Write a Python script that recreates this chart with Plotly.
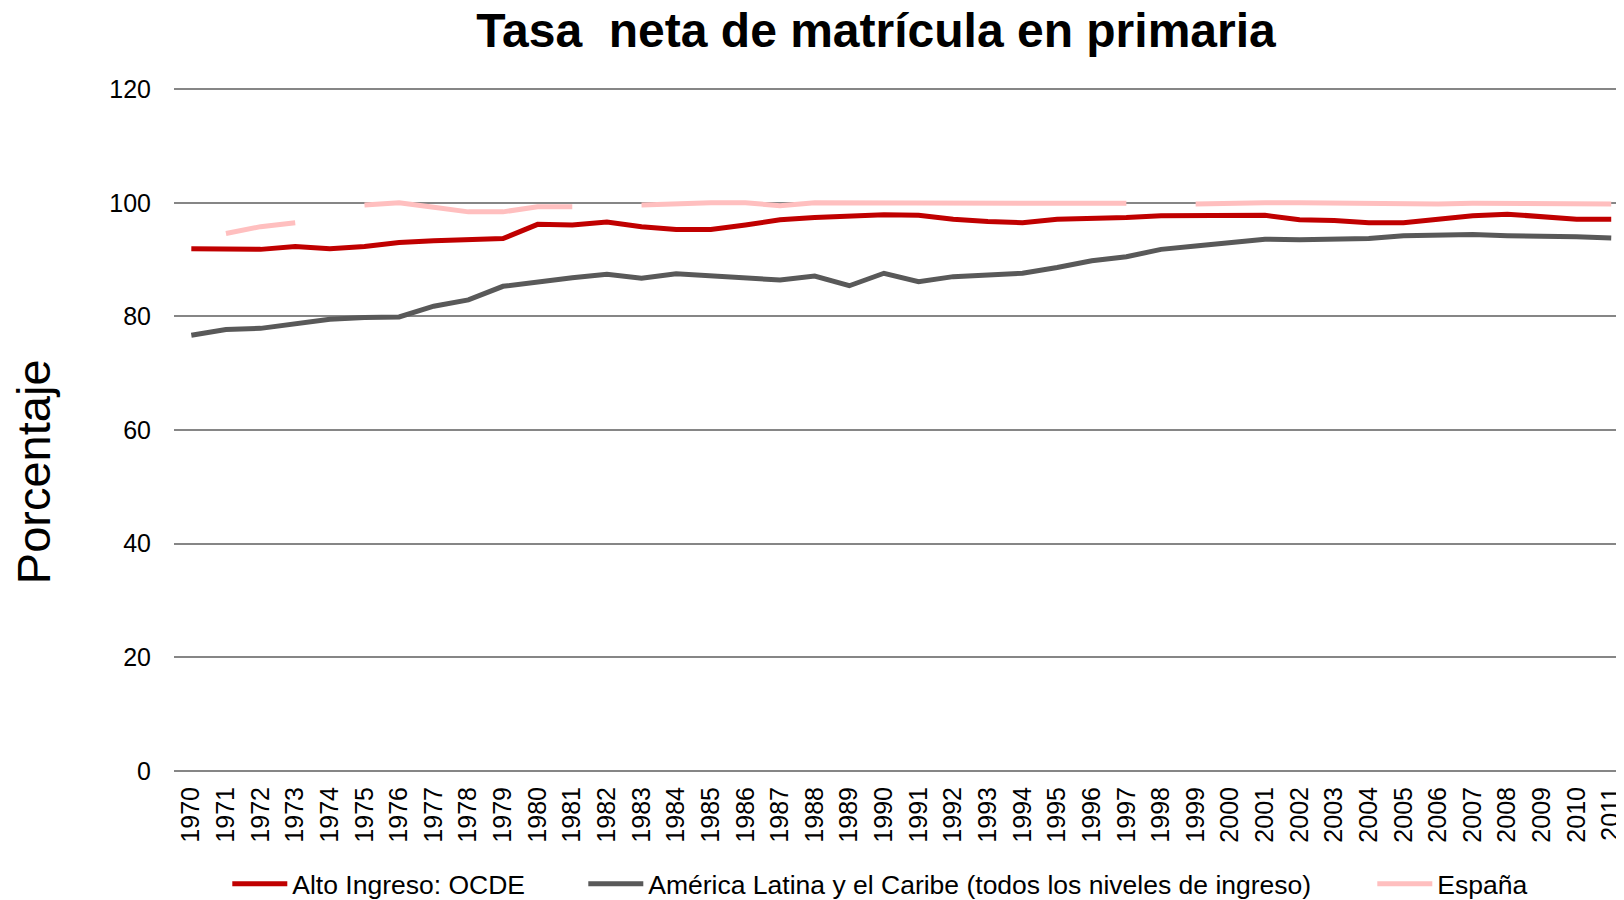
import plotly.graph_objects as go

years = list(range(1970, 2012))

alto_ingreso_ocde = [91.9, 91.9, 91.8, 92.3, 91.9, 92.3, 93.0, 93.3, 93.6, 93.7,
                     96.2, 96.1, 96.6, 95.8, 95.3, 95.3, 96.1, 97.0, 97.4, 97.7,
                     97.9, 97.8, 97.1, 96.7, 96.5, 97.1, 97.2, 97.4, 97.7, 97.7,
                     97.7, 97.8, 97.0, 96.9, 96.5, 96.5, 97.1, 97.7, 98.0, 97.6, 97.1, 97.1]

america_latina = [76.7, 77.7, 77.9, 78.8, 79.5, 79.8, 79.9, 81.8, 82.9, 85.3,
                  86.1, 86.8, 87.4, 86.7, 87.5, 87.1, 86.8, 86.4, 87.1, 85.4,
                  87.6, 86.1, 87.0, 87.2, 87.6, 88.6, 89.8, 90.5, 91.8, 92.4,
                  92.9, 93.6, 93.5, 93.5, 93.7, 94.2, 94.4, 94.4, 94.2, 94.2, 94.0, 93.8]

espana = [None, 94.6, 95.8, 96.5, None, 99.6, 100.0, 99.2, 98.4, 98.4,
          99.3, 99.3, None, 99.6, 99.9, 100.0, 100.0, 99.5, 100.0, 100.0,
          99.9, 99.8, 100.0, 100.0, 100.0, 100.0, 99.9, 99.9, None, 99.8,
          100.0, 100.0, 100.0, 99.9, 99.9, 99.8, 99.8, 99.9, 99.9, 99.9, 99.8, 99.8]

series_names = ["Alto Ingreso: OCDE",
                "América Latina y el Caribe (todos los niveles de ingreso)",
                "España"]
y_ticks = [0, 20, 40, 60, 80, 100, 120]

FONT = "Arial, Liberation Sans, sans-serif"
# page has an 8px body margin; figure sized to fill the rest of the viewport
W, H = 1616, 892
L, T, B = 166, 80, 129
PW, PH = W - L, H - T - B

fig = go.Figure()
fig.add_trace(go.Scatter(x=years, y=alto_ingreso_ocde, mode="lines", name=series_names[0],
                         line=dict(color="#C00000", width=5), legend="legend", showlegend=True))
fig.add_trace(go.Scatter(x=years, y=america_latina, mode="lines", name=series_names[1],
                         line=dict(color="#595959", width=5), legend="legend2", showlegend=True))
fig.add_trace(go.Scatter(x=years, y=espana, mode="lines", name=series_names[2],
                         line=dict(color="#FFBFBF", width=5), connectgaps=False, legend="legend3",
                         showlegend=True))

xmax = 1969.5 + PW / 34.8

leg_common = dict(orientation="h", xref="container", yref="container", yanchor="middle",
                  y=1 - 876 / H, xanchor="left",
                  font=dict(family=FONT, size=26.5, color="#000000"),
                  itemwidth=55, bgcolor="rgba(0,0,0,0)", borderwidth=0)

fig.update_layout(
    width=W, height=H,
    showlegend=True,
    margin=dict(l=L, r=0, t=T, b=B),
    plot_bgcolor="white", paper_bgcolor="white",
    title=dict(text="<b>Tasa  neta de matrícula en primaria</b>", xref="container", yref="container",
               x=868 / W, xanchor="center", y=1 - 22 / H, yanchor="middle",
               font=dict(family=FONT, size=48, color="#000000")),
    xaxis=dict(range=[1969.5, xmax], tickmode="array", tickvals=years,
               ticktext=[str(y) for y in years], tickangle=-90,
               tickfont=dict(family=FONT, size=25, color="#000000"),
               showgrid=False, zeroline=False, showline=False, ticks="",
               ticklabelstandoff=10, ticklabeloverflow="allow", fixedrange=True),
    yaxis=dict(range=[0, 120.2], tickvals=y_ticks, showgrid=True, gridcolor="#868686", gridwidth=1.5,
               zeroline=True, zerolinecolor="#868686", zerolinewidth=1.5,
               tickfont=dict(family=FONT, size=25, color="#000000"), ticks="",
               ticklabelstandoff=22, showline=False),
    legend=dict(leg_common, x=219.3 / W),
    legend2=dict(leg_common, x=575.3 / W),
    legend3=dict(leg_common, x=1364.3 / W),
    annotations=[dict(text="Porcentaje", textangle=-90, xref="paper", yref="paper",
                      x=(25 - L) / PW, y=(H - B - 463.5) / PH,
                      xanchor="center", yanchor="middle", showarrow=False,
                      font=dict(family=FONT, size=47, color="#000000"))],
)

fig.write_html("out.html")
